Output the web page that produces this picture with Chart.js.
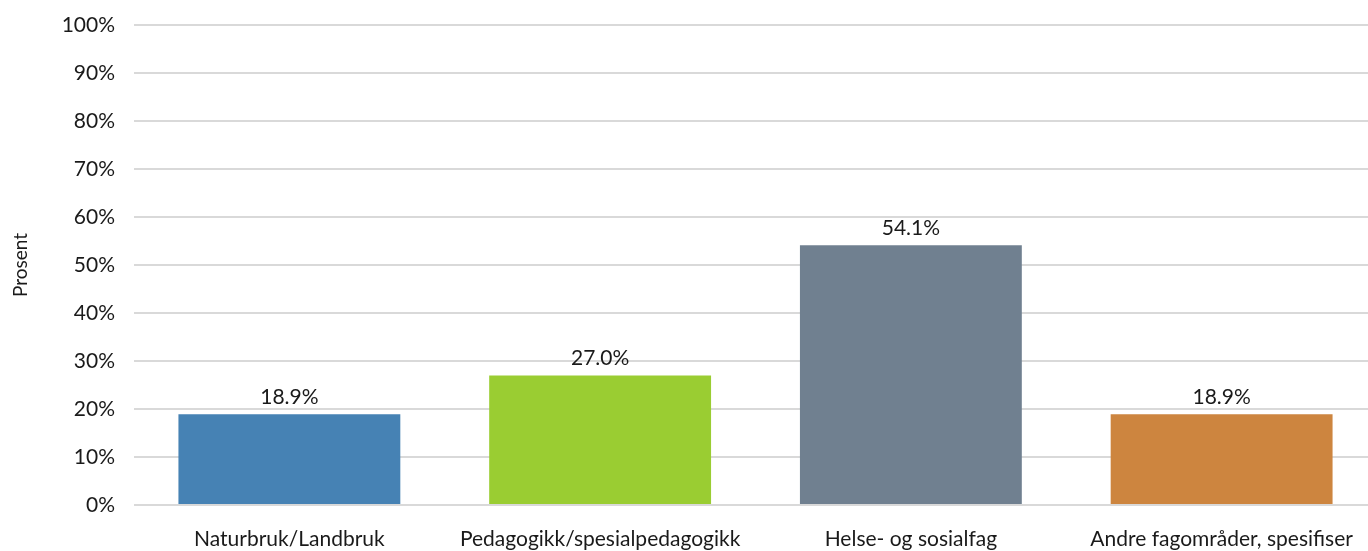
<!DOCTYPE html>
<html>
<head>
<meta charset="utf-8">
<script src="https://cdn.jsdelivr.net/npm/chart.js@4"></script>
<style>
  html, body { margin: 0; padding: 0; background: #fff; overflow: hidden; }
  #wrap { width: 1377px; height: 551px; position: relative; }
</style>
</head>
<body>
<div id="wrap"><canvas id="chart"></canvas></div>
<script>
const categories = ['Naturbruk/Landbruk', 'Pedagogikk/spesialpedagogikk', 'Helse- og sosialfag', 'Andre fagområder, spesifiser'];
const values = [18.9, 27.0, 54.1, 18.9];
const barColors = ['#4682B4', '#9ACD32', '#708090', '#CD853F'];
const yTicks = [0, 10, 20, 30, 40, 50, 60, 70, 80, 90, 100];

const fontFamily = 'Lato, "Open Sans", sans-serif';

// draws the value above each bar
const valueLabels = {
  id: 'valueLabels',
  afterDatasetsDraw(chart) {
    const ctx = chart.ctx;
    const meta = chart.getDatasetMeta(0);
    ctx.save();
    ctx.font = '21px ' + fontFamily;
    ctx.fillStyle = '#1a1a1a';
    ctx.textAlign = 'center';
    ctx.textBaseline = 'bottom';
    meta.data.forEach((bar, i) => {
      ctx.fillText(values[i].toFixed(1) + '%', bar.x, bar.y - 7);
    });
    ctx.restore();
  }
};

new Chart(document.getElementById('chart'), {
  type: 'bar',
  data: {
    labels: categories,
    datasets: [{
      data: values,
      backgroundColor: barColors,
      categoryPercentage: 1,
      barPercentage: 0.714
    }]
  },
  options: {
    responsive: true,
    maintainAspectRatio: false,
    animation: false,
    layout: { padding: { top: 25, right: 0, left: 0, bottom: 0 } },
    plugins: { legend: { display: false }, tooltip: { enabled: false } },
    scales: {
      x: {
        grid: { display: false, drawTicks: false },
        border: { display: false },
        ticks: { color: '#1a1a1a', font: { family: fontFamily, size: 21 }, padding: 22, maxRotation: 0, autoSkip: false },
        afterFit(scale) { scale.height = 46; scale.paddingLeft = 0; scale.paddingRight = 0; }
      },
      y: {
        min: 0,
        max: 100,
        afterBuildTicks(scale) { scale.ticks = yTicks.map(v => ({ value: v })); },
        grid: { color: '#d9d9d9', lineWidth: 2, drawTicks: false },
        border: { display: false },
        ticks: {
          color: '#1a1a1a',
          font: { family: fontFamily, size: 21 },
          padding: 19,
          callback: v => v + '%'
        },
        title: { display: true, text: 'Prosent', color: '#1a1a1a', font: { family: fontFamily, size: 19 }, padding: { top: 9, bottom: 0 } },
        afterFit(scale) { scale.width = 134; scale.paddingTop = 0; scale.paddingBottom = 0; }
      }
    }
  },
  plugins: [valueLabels]
});
</script>
</body>
</html>
